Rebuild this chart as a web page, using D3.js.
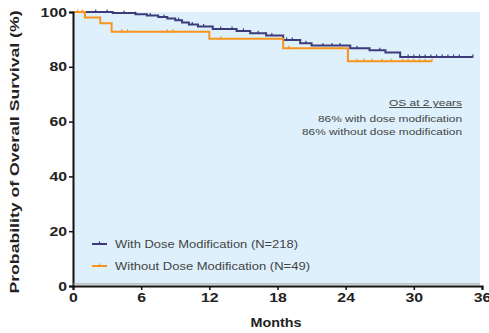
<!DOCTYPE html>
<html><head><meta charset="utf-8">
<script src="https://cdn.jsdelivr.net/npm/d3@7"></script>
<style>body{margin:0;background:#fff}svg{display:block}text{font-family:Arial,"Liberation Sans",sans-serif}</style>
</head><body><svg id="c" width="489" height="333"></svg>
<script>
const xTicks=[0,6,12,18,24,30,36];
const yTicks=[0,20,40,60,80,100];
const withSteps=[[0,100],[3.5,99.6],[5.5,99.2],[6.5,98.7],[7.5,98.2],[8.3,97.6],[9,97],[9.6,96.2],[10.2,95.4],[11,94.7],[12.3,93.8],[14.4,93.1],[15.6,92.2],[17,91.4],[18.5,89.8],[20,88.6],[21,87.8],[24.4,86.8],[26.1,86],[27.5,85.2],[28.8,83.6],[35.2,83.6]];
const withoutSteps=[[0,100],[1.05,98],[2.4,95.9],[3.4,92.8],[12,90.2],[18.5,86.8],[24.2,82],[31.6,82]];
const withCensor=[2,3,4.5,5.5,6.8,8,9.3,10.5,11.5,13,14,15,16.3,17.5,18.8,19.3,20.5,22,22.8,23.5,25,27,29.5,30,30.5,31,31.5,32,32.5,33,33.5,34,35.2];
const withoutCensor=[0.4,0.8,4.3,4.8,8.3,8.8,13,19,25,25.6,26.3,27.2,28,29,29.5,30,30.5,31,31.6];
const seriesNames=["With Dose Modification (N=218)","Without Dose Modification (N=49)"];
const annotation=["OS at 2 years","86% with dose modification","86% without dose modification"];

const svg=d3.select("#c");
const x=d3.scaleLinear().domain([0,36]).range([73,482]);
const y=d3.scaleLinear().domain([0,100]).range([286,12]);
const colors=["#3d3b7c","#f7941d"];
const font="Arial,'Liberation Sans',sans-serif";

svg.append("rect").attr("x",x(0)).attr("y",y(100)).attr("width",480-x(0)).attr("height",y(0)-2-y(100)).attr("fill","#ddf0fb");

function stepAt(steps,t){let v=steps[0][1];for(const s of steps){if(s[0]<=t)v=s[1];}return v;}
const line=d3.line().x(d=>x(d[0])).y(d=>y(d[1])).curve(d3.curveStepAfter);
[[withSteps,withCensor],[withoutSteps,withoutCensor]].forEach(([st,cs],i)=>{
  const g=svg.append("g");
  g.append("path").attr("d",line(st)).attr("fill","none").attr("stroke",colors[i]).attr("stroke-width",2);
  g.selectAll("line").data(cs).join("line")
    .attr("x1",d=>x(d)).attr("x2",d=>x(d))
    .attr("y1",d=>y(stepAt(st,d))-2.5).attr("y2",d=>y(stepAt(st,d))+0.5)
    .attr("stroke",colors[i]).attr("stroke-width",1.2);
});
svg.append("path").attr("d",line(withoutSteps.slice(0,2))).attr("fill","none").attr("stroke",colors[1]).attr("stroke-width",2);

const xa=svg.append("g").attr("transform",`translate(0,${y(0)})`)
  .call(d3.axisBottom(x).tickValues(xTicks).tickSize(4).tickPadding(3));
const ya=svg.append("g").attr("transform",`translate(${x(0)},0)`)
  .call(d3.axisLeft(y).tickValues(yTicks).tickSize(4).tickPadding(2));
[xa,ya].forEach(a=>{
  a.select(".domain").attr("stroke","#111").attr("stroke-width",2);
  a.selectAll(".tick line").attr("stroke","#111").attr("stroke-width",1.5);
  a.selectAll(".tick text").attr("fill","#222").attr("font-size",12.5).attr("font-weight","bold").attr("font-family",font)
    .attr("textLength",function(){return this.textContent.length*8.8;}).attr("lengthAdjust","spacingAndGlyphs");
});
svg.append("line").attr("x1",x(0)).attr("x2",480).attr("y1",y(0)-2).attr("y2",y(0)-2).attr("stroke","#999").attr("stroke-width",1);

svg.append("text").attr("x",276).attr("y",327).attr("text-anchor","middle").attr("font-size",13.5).attr("font-weight","bold").attr("fill","#222")
  .attr("textLength",51).attr("lengthAdjust","spacingAndGlyphs").text("Months");
svg.append("text").attr("transform","translate(19,152) rotate(-90)").attr("text-anchor","middle").attr("font-size",13.5).attr("font-weight","bold").attr("fill","#222")
  .attr("textLength",283).attr("lengthAdjust","spacingAndGlyphs").text("Probability of Overall Survival (%)");

const legW=[183,195];
seriesNames.forEach((n,i)=>{
  const yy=244+i*22;
  svg.append("line").attr("x1",92).attr("x2",107).attr("y1",yy).attr("y2",yy).attr("stroke",colors[i]).attr("stroke-width",2);
  svg.append("line").attr("x1",99.5).attr("x2",99.5).attr("y1",yy-2.5).attr("y2",yy).attr("stroke",colors[i]).attr("stroke-width",1.2);
  svg.append("text").attr("x",115).attr("y",yy+4).attr("font-size",11.5).attr("fill","#444")
    .attr("textLength",legW[i]).attr("lengthAdjust","spacingAndGlyphs").text(n);
});

const annW=[73,144,160];
const annY=[106,122,135];
annotation.forEach((t,i)=>{
  const tx=svg.append("text").attr("x",462).attr("y",annY[i]).attr("text-anchor","end").attr("font-size",9.5).attr("fill","#444")
    .attr("textLength",annW[i]).attr("lengthAdjust","spacingAndGlyphs").text(t);
  if(i===0) tx.attr("text-decoration","underline");
});
</script></body></html>
